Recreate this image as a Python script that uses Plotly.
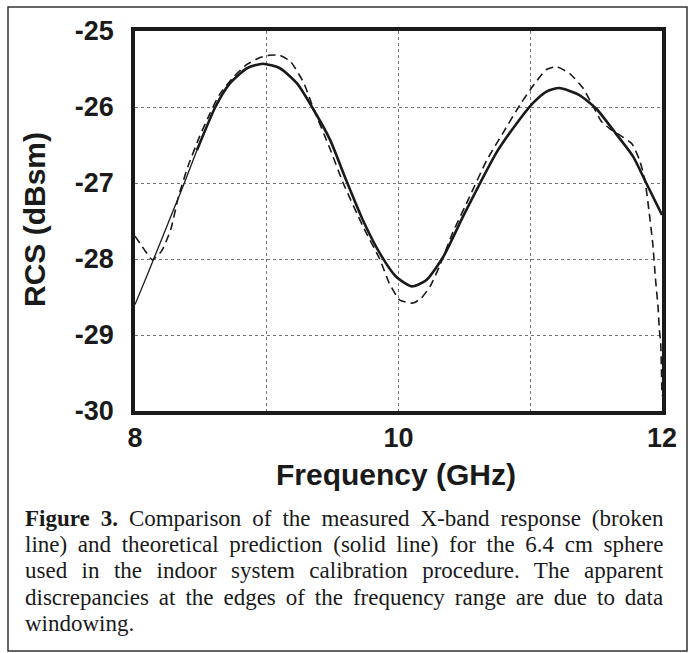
import plotly.graph_objects as go

# ---- data ----
theory_f = [8.00, 8.10, 8.20, 8.30, 8.37, 8.47, 8.61, 8.72, 8.85, 8.97, 9.10, 9.23, 9.35,
            9.48, 9.60, 9.73, 9.86, 9.98, 10.10, 10.21, 10.34, 10.49, 10.62, 10.74, 10.87,
            11.02, 11.12, 11.22, 11.37, 11.50, 11.65, 11.78, 11.88, 12.00]
theory_rcs = [-28.60, -28.18, -27.75, -27.32, -27.02, -26.57, -26.00, -25.69, -25.49, -25.43,
              -25.49, -25.69, -26.02, -26.43, -26.95, -27.49, -27.93, -28.23, -28.36, -28.28,
              -27.97, -27.44, -27.00, -26.61, -26.28, -25.95, -25.80, -25.75, -25.84, -26.02,
              -26.35, -26.65, -27.00, -27.42]

meas_f = [8.00, 8.04, 8.08, 8.13, 8.20, 8.27, 8.33, 8.40, 8.49, 8.57, 8.64, 8.75, 8.85, 8.95,
          9.02, 9.10, 9.18, 9.28, 9.35, 9.48, 9.58, 9.73, 9.86, 9.93, 10.01, 10.11, 10.17,
          10.24, 10.31, 10.41, 10.54, 10.67, 10.79, 10.93, 11.03, 11.12, 11.20, 11.30, 11.40,
          11.48, 11.54, 11.60, 11.68, 11.77, 11.83, 11.87, 11.90, 11.93, 11.95, 11.97, 11.98,
          11.99, 12.00]
meas_rcs = [-27.70, -27.80, -27.90, -28.01, -27.90, -27.62, -27.18, -26.79, -26.39, -26.08,
            -25.84, -25.60, -25.44, -25.35, -25.32, -25.32, -25.40, -25.68, -26.00, -26.55,
            -27.00, -27.57, -28.01, -28.32, -28.54, -28.58, -28.52, -28.36, -28.10, -27.66,
            -27.18, -26.70, -26.35, -25.95, -25.70, -25.51, -25.47, -25.56, -25.75, -26.00,
            -26.19, -26.28, -26.37, -26.48, -26.70, -26.96, -27.35, -27.80, -28.25, -28.63,
            -28.93, -29.10, -29.80]

x_ticks = [8, 9, 10, 11, 12]
x_ticktext = ["8", "", "10", "", "12"]
y_ticks = [-30, -29, -28, -27, -26, -25]
y_ticktext = ["-30", "-29", "-28", "-27", "-26", "-25"]

caption_lines = [
    "<b>Figure 3.</b> Comparison of the measured X-band response (broken",
    "line) and theoretical prediction (solid line) for the 6.4 cm sphere",
    "used in the indoor system calibration procedure. The apparent",
    "discrepancies at the edges of the frequency range are due to data",
    "windowing.",
]
word_spacing = [5.2, 4.9, 8.7, 4.2, 0]

# ---- layout geometry (pixels) ----
W, H = 694, 653
L, R, T, B = 135, 32, 31, 242
pw, ph = W - L - R, H - T - B


def px(xp):
    return (xp - L) / pw


def py(yp):
    return (H - B - yp) / ph


fig = go.Figure()

split = 5  # thin start of theoretical curve
fig.add_trace(go.Scatter(x=theory_f[:split + 1], y=theory_rcs[:split + 1], mode="lines",
                         line=dict(color="#1a1a1a", width=1.3, shape="spline", smoothing=0.6),
                         showlegend=False, hoverinfo="skip"))
fig.add_trace(go.Scatter(x=theory_f[split:], y=theory_rcs[split:], mode="lines",
                         line=dict(color="#1a1a1a", width=2.6, shape="spline", smoothing=0.6),
                         showlegend=False))
fig.add_trace(go.Scatter(x=meas_f, y=meas_rcs, mode="lines",
                         line=dict(color="#1a1a1a", width=1.6, dash="8px,5px",
                                   shape="spline", smoothing=0.5),
                         showlegend=False))

tickfont = dict(family="Arial, Liberation Sans, sans-serif", size=27, color="#1a1a1a",
                weight="bold")

fig.update_xaxes(range=[8, 12], tickvals=x_ticks, ticktext=x_ticktext, tickfont=tickfont,
                 showline=True, linewidth=3.5, linecolor="#1a1a1a", mirror=True,
                 showgrid=True, gridcolor="#777777", gridwidth=1, griddash="dot",
                 zeroline=False, ticks="", ticklabelstandoff=0)
fig.update_yaxes(range=[-30, -25], tickvals=y_ticks, ticktext=y_ticktext, tickfont=tickfont,
                 showline=True, linewidth=3.5, linecolor="#1a1a1a", mirror=True,
                 showgrid=True, gridcolor="#777777", gridwidth=1, griddash="dot",
                 zeroline=False, ticks="", ticklabelstandoff=12)

annotations = [
    dict(text="<b>Frequency (GHz)</b>", x=px(396), y=py(474), xref="paper", yref="paper",
         showarrow=False, xanchor="center", yanchor="middle",
         font=dict(family="Arial, Liberation Sans, sans-serif", size=30, color="#1a1a1a")),
    dict(text="<b>RCS (dBsm)</b>", x=px(34), y=py(220), xref="paper", yref="paper",
         showarrow=False, xanchor="center", yanchor="middle", textangle=-90,
         font=dict(family="Arial, Liberation Sans, sans-serif", size=30, color="#1a1a1a")),
]
baseline0, pitch = 525, 26.4
for i, line in enumerate(caption_lines):
    txt = line
    if word_spacing[i]:
        txt = f'<span style="word-spacing:{word_spacing[i]}px">{line}</span>'
    annotations.append(dict(text=txt, x=px(23), y=py(baseline0 + i * pitch - 7),
                            xref="paper", yref="paper", showarrow=False,
                            xanchor="left", yanchor="middle", align="left",
                            font=dict(family="Liberation Serif, Times New Roman, serif",
                                      size=23, color="#1a1a1a")))

fig.update_layout(
    width=W, height=H,
    margin=dict(l=L, r=R, t=T, b=B, autoexpand=False),
    paper_bgcolor="white", plot_bgcolor="white",
    annotations=annotations,
    shapes=[dict(type="rect", xref="paper", yref="paper",
                 x0=px(8), x1=px(687), y0=py(651), y1=py(7),
                 line=dict(color="#333333", width=1.5), layer="below")],
)

fig.write_html("out.html")
